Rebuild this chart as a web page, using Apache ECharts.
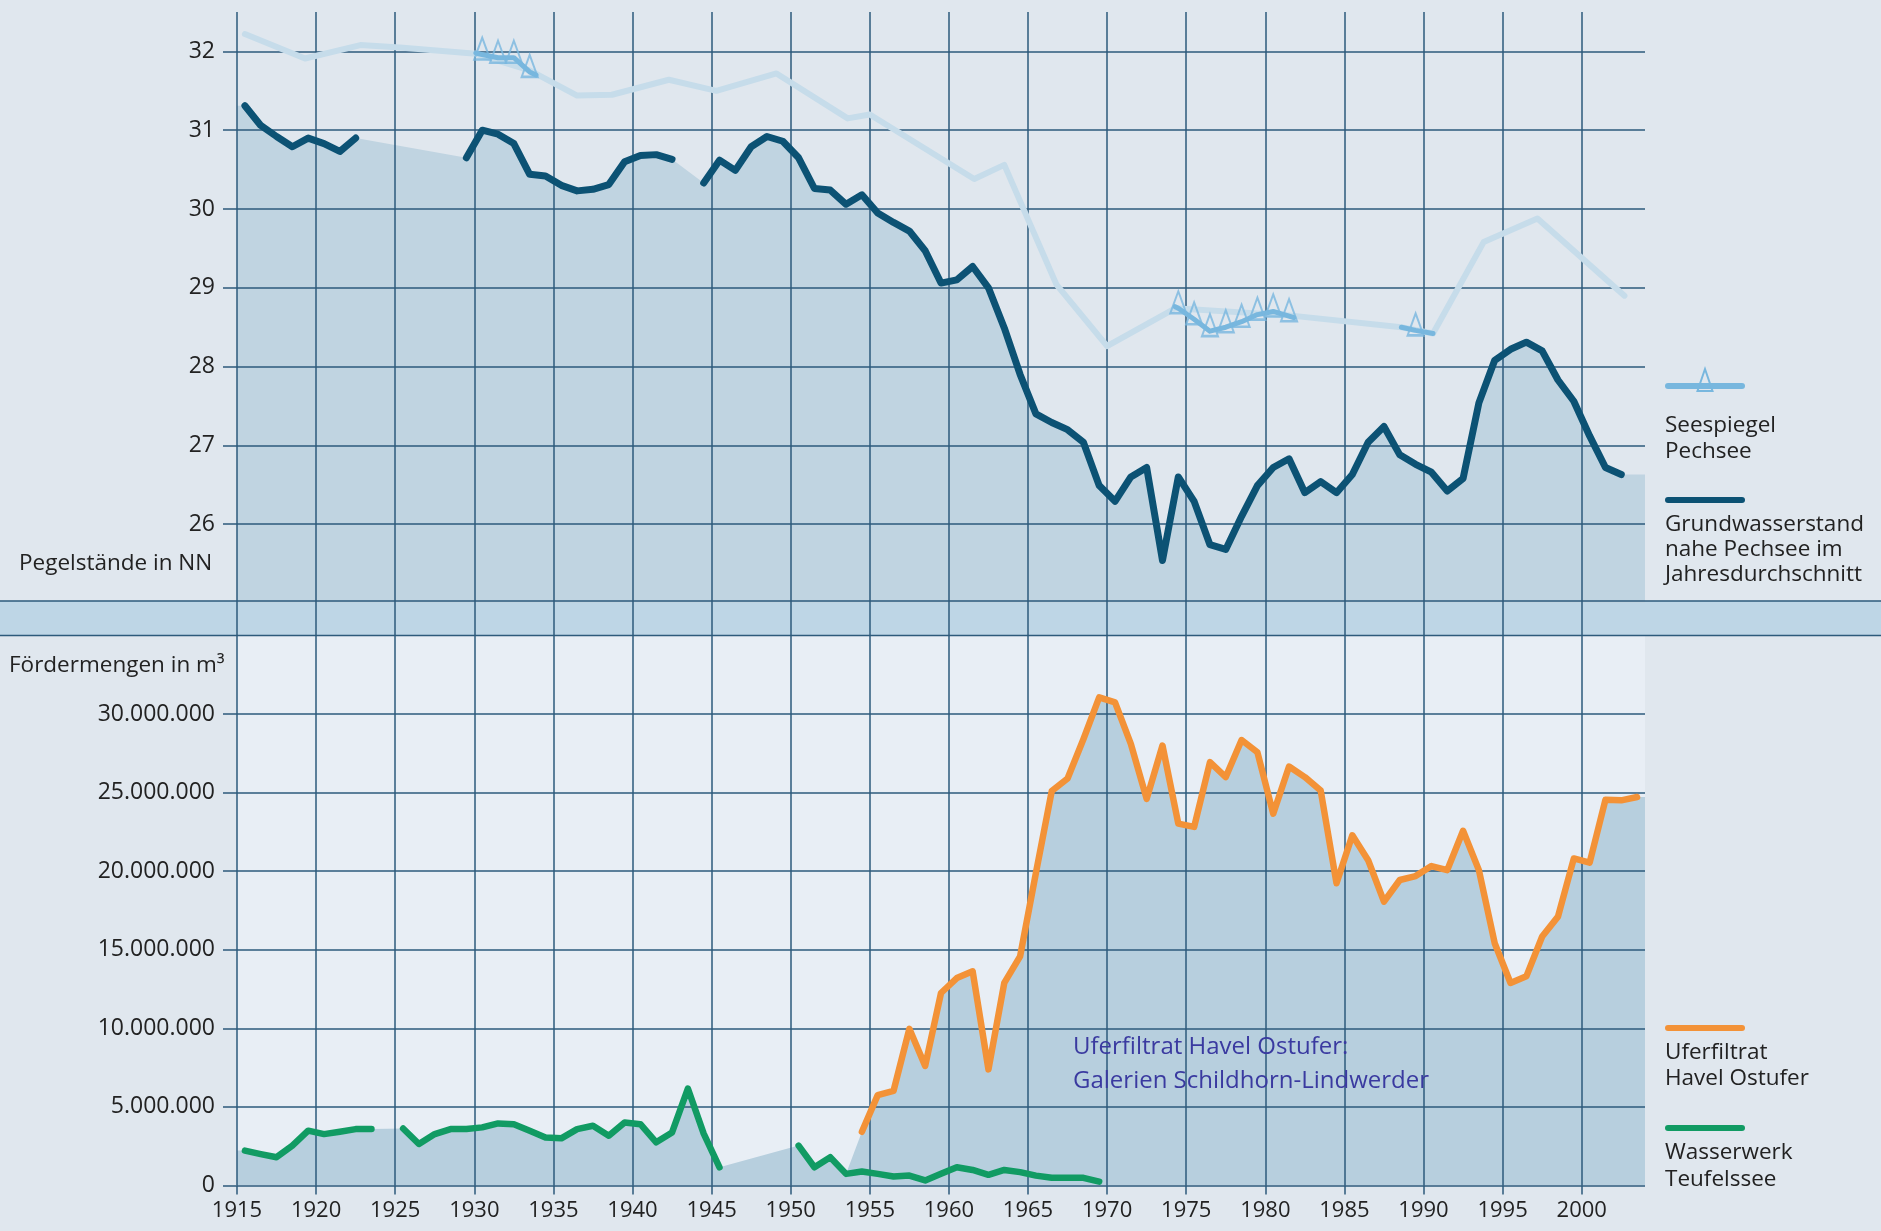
<!DOCTYPE html>
<html><head><meta charset="utf-8">
<script src="https://cdn.jsdelivr.net/npm/echarts@6/dist/echarts.min.js"></script>
<style>html,body{margin:0;padding:0;background:#e0e7ee;}#c{width:1881px;height:1231px;}</style>
</head><body><div id="c"></div>
<script>
// ---------- data ----------
const xTickYears = [1915,1920,1925,1930,1935,1940,1945,1950,1955,1960,1965,1970,1975,1980,1985,1990,1995,2000];
const yTopTicks = [26,27,28,29,30,31,32];
const yBottomTicksMio = [0,5,10,15,20,25,30];

// Grundwasserstand nahe Pechsee (Jahresmittel, m NN), ab 1915
const gwStartYear = 1915;
const gwValues = [
  31.31,31.06,30.92,30.79,30.90,30.83,30.73,30.90,
  null,null,null,null,null,null,
  30.65,31.00,30.95,30.83,30.44,30.42,30.30,30.23,30.25,30.31,30.60,30.68,30.69,30.63,
  null,
  30.33,30.62,30.49,30.79,30.92,30.86,30.65,30.26,30.24,30.06,30.18,29.95,29.83,29.72,29.47,29.06,
  29.10,29.27,29.00,28.49,27.90,27.40,27.29,27.20,27.04,26.49,26.29,26.60,26.72,25.54,26.60,26.29,
  25.74,25.68,26.10,26.49,26.72,26.83,26.40,26.54,26.40,26.63,27.04,27.24,26.88,26.76,26.66,26.42,
  26.58,27.54,28.08,28.22,28.31,28.20,27.83,27.56,27.12,26.72,26.63
];

// Seespiegel Pechsee (Verlauf)
const seeJahre = [1915.5,1919.3,1922.8,1925.3,1930.1,1933.5,1936.5,1938.7,1942.3,1945.3,1949.1,1953.6,1955.0,1961.6,1963.5,1966.8,1970.0,1974.3,1981.5,1988.6,1990.6,1993.8,1997.2,2002.7];
const seeWerte = [32.22,31.91,32.08,32.05,31.97,31.76,31.44,31.45,31.64,31.50,31.72,31.15,31.20,30.38,30.56,29.04,28.26,28.74,28.65,28.50,28.42,29.58,29.88,28.90];

// Seespiegel Pechsee (Messpunkte, Dreiecke)
const seeMessJahre = [1930.5,1931.5,1932.5,1933.5,1974.5,1975.5,1976.5,1977.5,1978.5,1979.5,1980.5,1981.5,1989.5];
const seeMessWerte = [31.96,31.92,31.92,31.74,28.74,28.60,28.45,28.50,28.57,28.66,28.70,28.64,28.46];
// Messabschnitte (Linie durch die Messpunkte)
const seeMessLinieJahre = [1930.1,1930.5,1931.5,1932.5,1933.5,1933.9,null,1974.3,1974.5,1975.5,1976.5,1977.5,1978.5,1979.5,1980.5,1981.5,1981.8,null,1988.6,1989.5,1990.6];
const seeMessLinieWerte = [31.98,31.96,31.92,31.92,31.74,31.70,null,28.76,28.74,28.60,28.45,28.50,28.57,28.66,28.70,28.64,28.62,null,28.50,28.46,28.42];

// Fördermengen in Mio. m³
const teufelsseeStart = 1915;
const teufelsseeMio = [
  2.22,2.00,1.80,2.54,3.49,3.27,3.42,3.59,3.59,null,
  3.63,2.64,3.27,3.59,3.59,3.70,3.95,3.90,3.49,3.06,3.00,3.59,3.80,3.17,4.01,3.90,2.75,3.38,6.17,3.30,1.16,
  null,null,null,null,
  2.54,1.16,1.80,0.74,0.89,0.74,0.57,0.63,0.32,0.74,1.16,0.99,0.68,0.99,0.85,0.63,0.49,0.49,0.49,0.25
];
const uferfiltratStart = 1954;
const uferfiltratMio = [
  3.42,5.75,6.02,9.97,7.61,12.25,13.20,13.63,7.39,12.89,14.58,19.90,25.10,25.90,28.40,31.06,30.74,28.10,24.60,28.00,
  23.03,22.82,26.94,25.99,28.35,27.57,23.66,26.66,25.99,25.14,19.23,22.29,20.70,18.06,19.44,19.69,20.33,20.07,22.57,20.07,
  15.42,12.89,13.31,15.85,17.11,20.81,20.54,24.55,24.51,24.72
];

// ---------- build ----------
const X_MIN = 1915, X_MAX = 2004;
const MIO = 1e6;
const yearly = (start, vals, f) => vals.map((v, i) => [start + i + 0.5, v == null ? null : v * (f || 1)]);
const pairs = (xs, ys) => xs.map((x, i) => (x == null ? [null, null] : [x, ys[i]]));

const gwData = yearly(gwStartYear, gwValues);
const gwKnown = gwData.filter(d => d[1] != null);
const topFill = [[X_MIN, gwKnown[0][1]]].concat(gwData, [[X_MAX, gwKnown[gwKnown.length - 1][1]]]);

const teufData = yearly(teufelsseeStart, teufelsseeMio, MIO);
const uferData = yearly(uferfiltratStart, uferfiltratMio, MIO);
const bottomEnv = [];
for (let y = teufelsseeStart; y <= uferfiltratStart + uferfiltratMio.length - 1; y++) {
  const u = uferfiltratMio[y - uferfiltratStart];
  const t = teufelsseeMio[y - teufelsseeStart];
  const v = (u != null) ? u : (t != null ? t : null);
  bottomEnv.push([y + 0.5, v == null ? null : v * MIO]);
}
const envKnown = bottomEnv.filter(d => d[1] != null);
const bottomFill = [[X_MIN, envKnown[0][1]]].concat(bottomEnv, [[X_MAX, envKnown[envKnown.length - 1][1]]]);

const deNum = v => String(Math.round(v)).replace(/\B(?=(\d{3})+(?!\d))/g, '.');

// ---------- style ----------
const FONT = '"Open Sans", "Noto Sans", sans-serif';
const GRID = '#2d5a7b';
const TXT = '#222222';
const C_GW = '#0c5274', C_SEE = '#c6dcea', C_MESS = '#78b7de', C_UF = '#f39237', C_TS = '#119b63';
const L = 237, W = 1408;

const xBase = (gi, labels) => ({
  type: 'value', gridIndex: gi, min: X_MIN, max: X_MAX, interval: 5, z: 2,
  axisLine: { show: false },
  axisTick: { show: true, length: labels ? 9 : 0, customValues: xTickYears, lineStyle: { color: GRID, width: 1.5 } },
  axisLabel: labels ? { show: true, customValues: xTickYears, margin: 14, fontFamily: FONT, fontSize: 22, color: TXT, formatter: v => String(v) } : { show: false },
  splitLine: { show: true, lineStyle: { color: GRID, width: 1.5 } }
});

const chart = echarts.init(document.getElementById('c'), null, { renderer: 'canvas' });
chart.setOption({
  backgroundColor: '#e0e7ee',
  animation: false,
  grid: [
    { left: L, width: W, top: 12, height: 591, show: false },
    { left: L, width: W, top: 603, height: 32, show: false },
    { left: L, width: W, top: 635.5, height: 550, show: true, backgroundColor: '#e8eef5', borderWidth: 0 }
  ],
  xAxis: [xBase(0, false), xBase(1, false), xBase(2, true)],
  yAxis: [
    { type: 'value', gridIndex: 0, min: 25, max: 32.5, interval: 1, z: 2,
      axisLine: { show: false },
      axisTick: { show: true, length: 14, customValues: yTopTicks, lineStyle: { color: GRID, width: 1.5 } },
      axisLabel: { customValues: yTopTicks, margin: 22, fontFamily: FONT, fontSize: 23, color: TXT },
      splitLine: { show: true, lineStyle: { color: GRID, width: 1.5 } } },
    { type: 'value', gridIndex: 1, min: 0, max: 1, show: false, splitLine: { show: false } },
    { type: 'value', gridIndex: 2, min: 0, max: 35 * MIO, interval: 5 * MIO, z: 2,
      axisLine: { show: false },
      axisTick: { show: true, length: 14, customValues: yBottomTicksMio.map(v => v * MIO), lineStyle: { color: GRID, width: 1.5 } },
      axisLabel: { customValues: yBottomTicksMio.map(v => v * MIO), margin: 22, fontFamily: FONT, fontSize: 23, color: TXT, formatter: v => deNum(v) },
      splitLine: { show: true, lineStyle: { color: GRID, width: 1.5 } } }
  ],
  series: [
    { name: 'Fläche oben', type: 'line', xAxisIndex: 0, yAxisIndex: 0, data: topFill, connectNulls: true, showSymbol: false, silent: true, z: 1,
      lineStyle: { width: 0 }, areaStyle: { color: '#c0d4e1', opacity: 1, origin: 'start' } },
    { name: 'Seespiegel Verlauf', type: 'line', xAxisIndex: 0, yAxisIndex: 0, data: pairs(seeJahre, seeWerte), showSymbol: false, z: 3,
      lineStyle: { color: C_SEE, width: 6, cap: 'round', join: 'round' } },
    { name: 'Seespiegel Pechsee', type: 'line', xAxisIndex: 0, yAxisIndex: 0, data: pairs(seeMessLinieJahre, seeMessLinieWerte), showSymbol: false, connectNulls: false, z: 4,
      lineStyle: { color: C_MESS, width: 5, cap: 'round', join: 'round' } },
    { name: 'Seespiegel Messpunkte', type: 'scatter', xAxisIndex: 0, yAxisIndex: 0, data: pairs(seeMessJahre, seeMessWerte), z: 5,
      symbol: 'triangle', symbolSize: [16, 22], symbolOffset: [0, -6],
      itemStyle: { color: 'rgba(0,0,0,0)', borderColor: C_MESS, borderWidth: 2.2 } },
    { name: 'Grundwasserstand', type: 'line', xAxisIndex: 0, yAxisIndex: 0, data: gwData, showSymbol: false, connectNulls: false, z: 6,
      lineStyle: { color: C_GW, width: 7, cap: 'round', join: 'round' } },
    { name: 'Fläche unten', type: 'line', xAxisIndex: 2, yAxisIndex: 2, data: bottomFill, connectNulls: true, showSymbol: false, silent: true, z: 1,
      lineStyle: { width: 0 }, areaStyle: { color: '#b7cfde', opacity: 1, origin: 'start' } },
    { name: 'Uferfiltrat Havel Ostufer', type: 'line', xAxisIndex: 2, yAxisIndex: 2, data: uferData, showSymbol: false, z: 6,
      lineStyle: { color: C_UF, width: 6.5, cap: 'round', join: 'round' } },
    { name: 'Wasserwerk Teufelssee', type: 'line', xAxisIndex: 2, yAxisIndex: 2, data: teufData, showSymbol: false, connectNulls: false, z: 6,
      lineStyle: { color: C_TS, width: 6.5, cap: 'round', join: 'round' } }
  ],
  graphic: [
    { type: 'rect', z: -10, silent: true, shape: { x: 0, y: 601, width: 1881, height: 34 }, style: { fill: '#bed6e6' } },
    { type: 'line', z: 10, silent: true, shape: { x1: 0, y1: 601, x2: 1881, y2: 601 }, style: { stroke: GRID, lineWidth: 1.5 } },
    { type: 'line', z: 10, silent: true, shape: { x1: 0, y1: 635.5, x2: 1881, y2: 635.5 }, style: { stroke: GRID, lineWidth: 1.5 } },
    { type: 'text', z: 100, left: 19, top: 552, style: { text: 'Pegelstände in NN', font: '22.5px ' + FONT, fill: TXT } },
    { type: 'text', z: 100, left: 9, top: 654, style: { text: 'Fördermengen in m³', font: '22.5px ' + FONT, fill: TXT } },
    { type: 'text', z: 100, left: 1073, top: 1030, style: { text: 'Uferfiltrat Havel Ostufer:\nGalerien Schildhorn-Lindwerder', font: '24px ' + FONT, lineHeight: 34, fill: '#3a3aa0' } },
    // legend
    { type: 'line', z: 100, shape: { x1: 1668, y1: 386, x2: 1742, y2: 386 }, style: { stroke: C_MESS, lineWidth: 6, lineCap: 'round' } },
    { type: 'polygon', z: 100, shape: { points: [[1697.5, 391], [1712.5, 391], [1705, 369]] }, style: { fill: 'none', stroke: C_MESS, lineWidth: 2 } },
    { type: 'text', z: 100, left: 1665, top: 413, style: { text: 'Seespiegel\nPechsee', font: '22.5px ' + FONT, lineHeight: 26, fill: TXT } },
    { type: 'line', z: 100, shape: { x1: 1668, y1: 500, x2: 1742, y2: 500 }, style: { stroke: C_GW, lineWidth: 6, lineCap: 'round' } },
    { type: 'text', z: 100, left: 1665, top: 512, style: { text: 'Grundwasserstand\nnahe Pechsee im\nJahresdurchschnitt', font: '22.5px ' + FONT, lineHeight: 25, fill: TXT } },
    { type: 'line', z: 100, shape: { x1: 1668, y1: 1028, x2: 1742, y2: 1028 }, style: { stroke: C_UF, lineWidth: 6, lineCap: 'round' } },
    { type: 'text', z: 100, left: 1665, top: 1040, style: { text: 'Uferfiltrat\nHavel Ostufer', font: '22.5px ' + FONT, lineHeight: 26, fill: TXT } },
    { type: 'line', z: 100, shape: { x1: 1668, y1: 1128, x2: 1742, y2: 1128 }, style: { stroke: C_TS, lineWidth: 6, lineCap: 'round' } },
    { type: 'text', z: 100, left: 1665, top: 1139, style: { text: 'Wasserwerk\nTeufelssee', font: '22.5px ' + FONT, lineHeight: 27, fill: TXT } }
  ]
});
</script></body></html>
